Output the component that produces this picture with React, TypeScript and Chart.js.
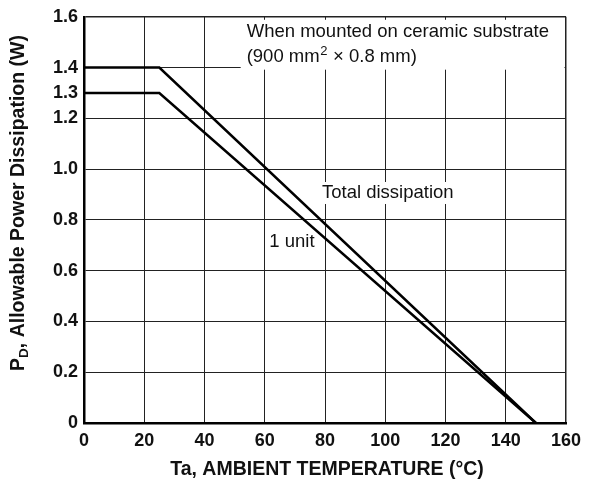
import React, { useEffect, useRef } from "react";
import { Chart, registerables } from "chart.js";

Chart.register(...registerables);

// Data
const totalDissipation = [
  { x: 0, y: 1.4 },
  { x: 25, y: 1.4 },
  { x: 150, y: 0 },
];
const oneUnit = [
  { x: 0, y: 1.3 },
  { x: 25, y: 1.3 },
  { x: 150, y: 0 },
];
const xTickValues = [0, 20, 40, 60, 80, 100, 120, 140, 160];
const yTickValues = [0, 0.2, 0.4, 0.6, 0.8, 1.0, 1.2, 1.3, 1.4, 1.6];
const xTitle = "Ta, AMBIENT TEMPERATURE (°C)";
const yTitleMain = "P";
const yTitleSub = "D";
const yTitleRest = ", Allowable Power Dissipation (W)";
const noteLine1 = "When mounted on ceramic substrate";
const noteLine2a = "(900 mm";
const noteLine2sup = "2";
const noteLine2b = " × 0.8 mm)";
const labelTotal = "Total dissipation";
const labelUnit = "1 unit";

const FONT = "'Liberation Sans', Arial, Helvetica, sans-serif";
const TXT = 18.5;

const overlayPlugin = {
  id: "overlay",
  beforeDatasetsDraw(chart: any) {
    const ctx = chart.ctx;
    const xs = chart.scales.x;
    const ys = chart.scales.y;
    const area = chart.chartArea;
    ctx.save();
    ctx.textBaseline = "middle";
    ctx.textAlign = "left";
    // Note box
    const nx = xs.getPixelForValue(54);
    const ny1 = ys.getPixelForValue(1.541);
    const ny2 = ys.getPixelForValue(1.443);
    ctx.fillStyle = "#fff";
    ctx.fillRect(nx - 6, ny1 - 12, area.right - 1.5 - (nx - 6), ny2 + 13 - (ny1 - 12));
    ctx.fillStyle = "#111";
    ctx.font = `${TXT}px ${FONT}`;
    ctx.fillText(noteLine1, nx, ny1);
    ctx.fillText(noteLine2a, nx, ny2);
    const w = ctx.measureText(noteLine2a).width;
    ctx.font = `13px ${FONT}`;
    ctx.fillText(noteLine2sup, nx + w + 0.5, ny2 - 5);
    const ws = ctx.measureText(noteLine2sup).width;
    ctx.font = `${TXT}px ${FONT}`;
    ctx.fillText(noteLine2b, nx + w + ws + 1, ny2);

    // Labels
    const drawLabel = (text: string, vx: number, vy: number) => {
      const px = xs.getPixelForValue(vx);
      const py = ys.getPixelForValue(vy);
      ctx.font = `${TXT}px ${FONT}`;
      const tw = ctx.measureText(text).width;
      ctx.fillStyle = "#fff";
      ctx.fillRect(px - 3, py - 11, tw + 6, 22);
      ctx.fillStyle = "#111";
      ctx.fillText(text, px, py);
    };
    drawLabel(labelTotal, 79, 0.906);
    drawLabel(labelUnit, 61.5, 0.714);
    ctx.restore();
  },
  afterDraw(chart: any) {
    const ctx = chart.ctx;
    const area = chart.chartArea;
    ctx.save();
    ctx.fillStyle = "#111";
    // x title
    ctx.font = `bold 19.5px ${FONT}`;
    ctx.textAlign = "center";
    ctx.textBaseline = "middle";
    ctx.fillText(xTitle, 327, 470);
    // y title rotated with subscript
    ctx.translate(19, 203);
    ctx.rotate(-Math.PI / 2);
    const mainFont = `bold 19.5px ${FONT}`;
    const subFont = `bold 13.5px ${FONT}`;
    ctx.font = mainFont;
    const w1 = ctx.measureText(yTitleMain).width;
    const w3 = ctx.measureText(yTitleRest).width;
    ctx.font = subFont;
    const w2 = ctx.measureText(yTitleSub).width;
    const total = w1 + w2 + w3;
    let cx = -total / 2;
    ctx.textAlign = "left";
    ctx.font = mainFont;
    ctx.fillText(yTitleMain, cx, 0);
    cx += w1;
    ctx.font = subFont;
    ctx.fillText(yTitleSub, cx, 5);
    cx += w2;
    ctx.font = mainFont;
    ctx.fillText(yTitleRest, cx, 0);
    ctx.restore();
  },
};

export default function App() {
  const ref = useRef<HTMLCanvasElement>(null);
  useEffect(() => {
    if (!ref.current) return;
    const chart = new Chart(ref.current, {
      type: "line",
      data: {
        datasets: [
          {
            label: "Total dissipation",
            data: totalDissipation,
            borderColor: "#000",
            borderWidth: 2.5,
            pointRadius: 0,
            fill: false,
          },
          {
            label: "1 unit",
            data: oneUnit,
            borderColor: "#000",
            borderWidth: 2.5,
            pointRadius: 0,
            fill: false,
          },
        ],
      },
      options: {
        animation: false,
        responsive: false,
        maintainAspectRatio: false,
        layout: { padding: { top: 15, right: 27, left: 0, bottom: 0 } },
        plugins: {
          legend: { display: false },
          title: { display: false },
          tooltip: { enabled: false },
        },
        scales: {
          x: {
            type: "linear",
            min: 0,
            max: 160,
            afterBuildTicks: (scale: any) => {
              scale.ticks = xTickValues.map((v) => ({ value: v }));
            },
            afterFit: (scale: any) => {
              scale.height = 62;
            },
            ticks: {
              color: "#111",
              font: { family: FONT, size: 18, weight: "bold" },
              padding: 7,
              maxRotation: 0,
              autoSkip: false,
            },
            grid: {
              drawTicks: false,
              color: "#222",
              lineWidth: (c: any) => (c.tick && c.tick.value === 160 ? 1.5 : 1),
            },
            border: { display: true, color: "#000", width: 2.5 },
          },
          y: {
            type: "linear",
            min: 0,
            max: 1.6,
            afterBuildTicks: (scale: any) => {
              scale.ticks = yTickValues.map((v) => ({ value: v }));
            },
            afterFit: (scale: any) => {
              scale.width = 84;
            },
            ticks: {
              color: "#111",
              font: { family: FONT, size: 18, weight: "bold" },
              padding: 6,
              autoSkip: false,
              callback: (v: any) => (Number(v) === 0 ? "0" : Number(v).toFixed(1)),
            },
            grid: {
              drawTicks: false,
              color: (c: any) => (c.tick && Math.abs(c.tick.value - 1.3) < 1e-6 ? "rgba(0,0,0,0)" : "#222"),
              lineWidth: (c: any) => (c.tick && c.tick.value === 1.6 ? 1.5 : 1),
            },
            border: { display: true, color: "#000", width: 2.5 },
          },
        },
      },
      plugins: [overlayPlugin],
    } as any);
    return () => chart.destroy();
  }, []);
  return (
    <div style={{ position: "fixed", left: 0, top: 0, width: 593, height: 485, background: "#fff" }}>
      <canvas ref={ref} width={593} height={485} style={{ width: 593, height: 485, display: "block" }} />
    </div>
  );
}
